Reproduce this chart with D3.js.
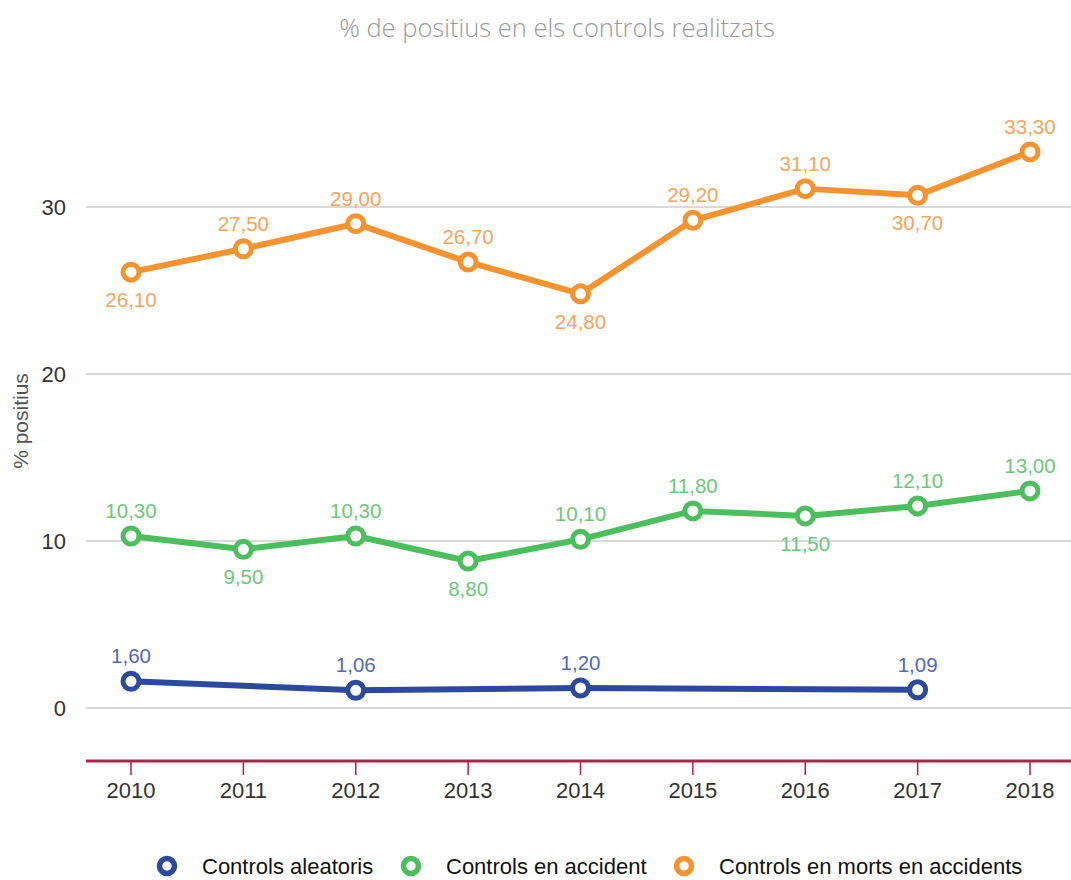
<!DOCTYPE html>
<html>
<head>
<meta charset="utf-8">
<script src="https://cdn.jsdelivr.net/npm/d3@7"></script>
<style>
  body { margin: 0; background: #fff; }
  svg { display: block; font-family: "Liberation Sans", Arial, sans-serif; }
</style>
</head>
<body>
<script>
var years = [2010, 2011, 2012, 2013, 2014, 2015, 2016, 2017, 2018];
var aleatoris = [1.60, null, 1.06, null, 1.20, null, null, 1.09, null];
var accident = [10.30, 9.50, 10.30, 8.80, 10.10, 11.80, 11.50, 12.10, 13.00];
var morts = [26.10, 27.50, 29.00, 26.70, 24.80, 29.20, 31.10, 30.70, 33.30];
// label placement: 1 = above, -1 = below
var accidentPos = [1, -1, 1, -1, 1, 1, -1, 1, 1];
var mortsPos = [-1, 1, 1, 1, -1, 1, 1, -1, 1];
var yTicks = [0, 10, 20, 30];

var series = [
  { name: 'Controls aleatoris', values: aleatoris, pos: aleatoris.map(function() { return 1; }), color: '#2b4a9f', label: '#5468b8' },
  { name: 'Controls en accident', values: accident, pos: accidentPos, color: '#4cbf5d', label: '#6cc97a' },
  { name: 'Controls en morts en accidents', values: morts, pos: mortsPos, color: '#f7932f', label: '#f8a55a' }
];

var width = 1071, height = 880;
var svg = d3.select('body').append('svg')
  .attr('width', width)
  .attr('height', height);

var x = d3.scaleLinear().domain([2010, 2018]).range([131, 1030]);
var y = d3.scaleLinear().domain([0, 30]).range([708, 207]);
var axisY = y(-3.17);

svg.append('text')
  .attr('x', 557).attr('y', 37)
  .attr('text-anchor', 'middle')
  .style('font-family', '"Open Sans", Lato, sans-serif')
  .style('font-weight', 300)
  .style('font-size', '25.5px')
  .style('fill', '#9a9a9a')
  .text('% de positius en els controls realitzats');

// grid
var grid = svg.append('g');
grid.selectAll('line').data(yTicks).enter().append('line')
  .attr('x1', 86).attr('x2', 1071)
  .attr('y1', function(d) { return y(d); })
  .attr('y2', function(d) { return y(d); })
  .style('stroke', '#cccccc').style('stroke-width', 1.5);

grid.selectAll('text').data(yTicks).enter().append('text')
  .attr('x', 66).attr('y', function(d) { return y(d); })
  .attr('dy', '0.35em')
  .attr('text-anchor', 'end')
  .style('font-size', '22px').style('fill', '#333')
  .text(function(d) { return d; });

svg.append('text')
  .attr('transform', 'translate(28,421) rotate(-90)')
  .attr('text-anchor', 'middle')
  .style('font-size', '21px').style('fill', '#555')
  .text('% positius');

// x axis
var xAxis = svg.append('g');
xAxis.append('line')
  .attr('x1', 86).attr('x2', 1071)
  .attr('y1', axisY).attr('y2', axisY)
  .style('stroke', '#b5204b').style('stroke-width', 3);
xAxis.selectAll('.tick').data(years).enter().append('line')
  .attr('x1', function(d) { return x(d); })
  .attr('x2', function(d) { return x(d); })
  .attr('y1', axisY).attr('y2', axisY + 14)
  .style('stroke', '#b5204b').style('stroke-width', 1.5);
xAxis.selectAll('text').data(years).enter().append('text')
  .attr('x', function(d) { return x(d); })
  .attr('y', axisY + 37)
  .attr('text-anchor', 'middle')
  .style('font-size', '22px').style('fill', '#333')
  .text(function(d) { return d; });

var fmt = function(v) { return v.toFixed(2).replace('.', ','); };

var line = d3.line()
  .defined(function(d) { return d.v != null; })
  .x(function(d) { return x(d.year); })
  .y(function(d) { return y(d.v); });

series.forEach(function(s) {
  var pts = years.map(function(yr, i) { return { year: yr, v: s.values[i], pos: s.pos[i] }; })
    .filter(function(d) { return d.v != null; });
  var g = svg.append('g');
  g.append('path')
    .datum(pts)
    .attr('d', line)
    .style('fill', 'none')
    .style('stroke', s.color)
    .style('stroke-width', 6)
    .style('stroke-linejoin', 'round');
  g.selectAll('circle').data(pts).enter().append('circle')
    .attr('cx', function(d) { return x(d.year); })
    .attr('cy', function(d) { return y(d.v); })
    .attr('r', 8)
    .style('fill', '#fff')
    .style('stroke', s.color)
    .style('stroke-width', 5);
  g.selectAll('text').data(pts).enter().append('text')
    .attr('x', function(d) { return x(d.year); })
    .attr('y', function(d) { return y(d.v) + (d.pos > 0 ? -18 : 35); })
    .attr('text-anchor', 'middle')
    .style('font-size', '20.5px')
    .style('fill', s.label)
    .text(function(d) { return fmt(d.v); });
});

// legend
var legendX = [167, 411, 684];
var legend = svg.append('g').selectAll('g').data(series).enter().append('g')
  .attr('transform', function(d, i) { return 'translate(' + legendX[i] + ',866)'; });
legend.append('circle')
  .attr('r', 7.5)
  .style('fill', '#fff')
  .style('stroke', function(d) { return d.color; })
  .style('stroke-width', 5.5);
legend.append('text')
  .attr('x', 35).attr('dy', '0.35em')
  .style('font-size', '22px').style('fill', '#111')
  .text(function(d) { return d.name; });
</script>
</body>
</html>
